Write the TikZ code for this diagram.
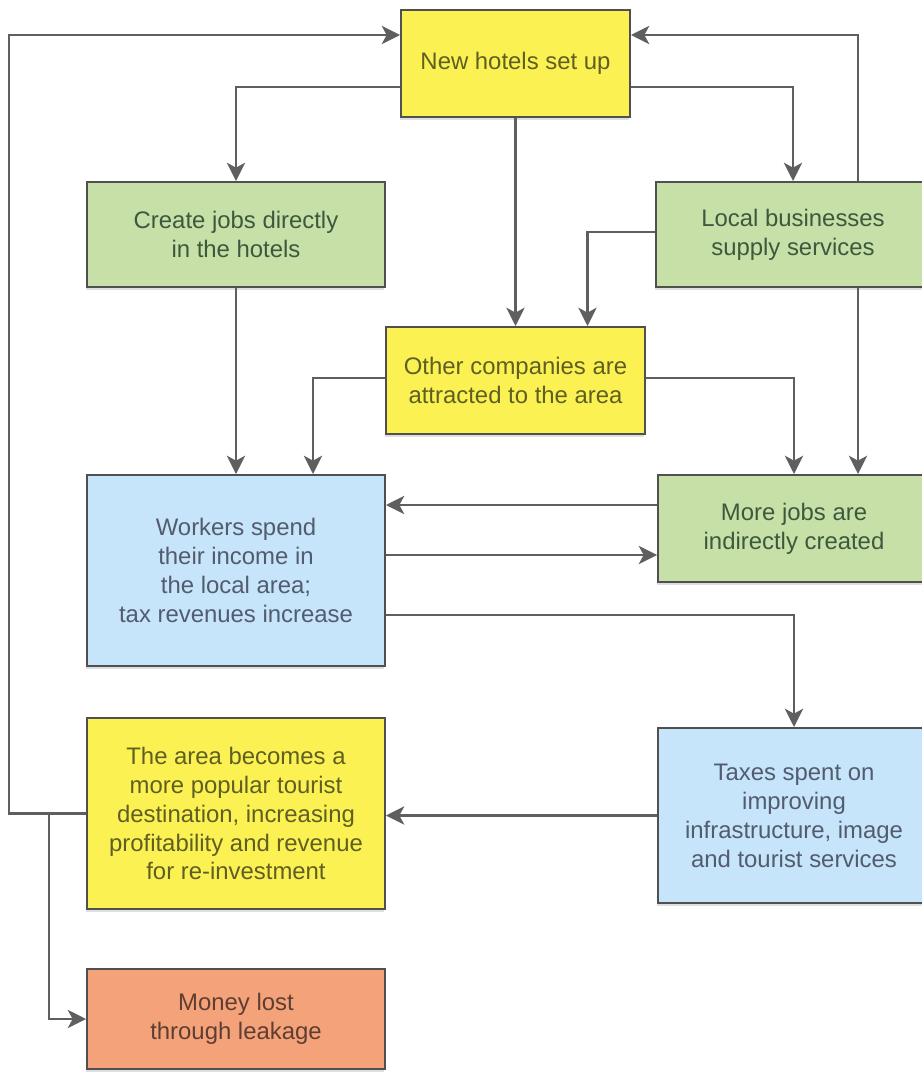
\documentclass[tikz,border=0pt]{standalone}
\usepackage{fontspec}
\setmainfont{Liberation Sans}
\usetikzlibrary{arrows.meta,calc,shadows}
\definecolor{hotelyellow}{RGB}{251,241,82}
\definecolor{jobgreen}{RGB}{198,224,168}
\definecolor{taxblue}{RGB}{198,228,250}
\definecolor{leakorange}{RGB}{244,162,122}
\definecolor{boxline}{RGB}{80,80,80}
\definecolor{arrowgray}{RGB}{95,95,95}
\definecolor{yellowtext}{RGB}{95,95,35}
\definecolor{greentext}{RGB}{62,88,62}
\definecolor{bluetext}{RGB}{82,92,110}
\definecolor{orangetext}{RGB}{95,62,50}
\newcommand{\pxu}{0.025cm}
\begin{document}
\begin{tikzpicture}[x=0.025cm,y=-0.025cm,
    box/.style={draw=boxline, line width=1.4pt, align=center, inner sep=0pt,
      font=\fontsize{17}{20.6}\selectfont,
      drop shadow={shadow xshift=-1pt, shadow yshift=-2pt, opacity=0.25}},
    yellowbox/.style={box, fill=hotelyellow, text=yellowtext},
    greenbox/.style={box, fill=jobgreen, text=greentext},
    bluebox/.style={box, fill=taxblue, text=bluetext},
    orangebox/.style={box, fill=leakorange, text=orangetext},
    arr/.style={draw=arrowgray, line width=1.8pt, -{Stealth[length=13pt,width=13pt,inset=3.5pt]}}]
\useasboundingbox (0,0) rectangle (921,1075);

\node[yellowbox, minimum width=229*\pxu, minimum height=107*\pxu] (hotels) at (515.5,63.5) {New hotels set up};
\node[greenbox, minimum width=298*\pxu, minimum height=105*\pxu] (direct) at (236,234.5) {Create jobs directly\\in the hotels};
\node[greenbox, minimum width=274*\pxu, minimum height=105*\pxu] (local) at (793,234.5) {Local businesses\\supply services};
\node[yellowbox, minimum width=259*\pxu, minimum height=107*\pxu] (other) at (515.5,380.5) {Other companies are\\attracted to the area};
\node[bluebox, minimum width=298*\pxu, minimum height=191*\pxu] (workers) at (236,570.5) {Workers spend\\their income in\\the local area;\\tax revenues increase};
\node[greenbox, minimum width=272*\pxu, minimum height=107*\pxu] (morejobs) at (794,528.5) {More jobs are\\indirectly created};
\node[yellowbox, minimum width=298*\pxu, minimum height=191*\pxu] (tourist) at (236,813.5) {The area becomes a\\more popular tourist\\destination, increasing\\profitability and revenue\\for re-investment};
\node[bluebox, minimum width=272*\pxu, minimum height=175*\pxu] (taxes) at (794,815.5) {Taxes spent on\\improving\\infrastructure, image\\and tourist services};
\node[orangebox, minimum width=298*\pxu, minimum height=100*\pxu] (money) at (236,1019) {Money lost\\through leakage};

\coordinate (hL) at ($(hotels.west)+(0,23.5)$);
\coordinate (hR) at ($(hotels.east)+(0,23.5)$);
\coordinate (hLin) at ($(hotels.west)+(0,-28.5)$);
\coordinate (hRin) at ($(hotels.east)+(0,-28.5)$);
\coordinate (lR) at ($(local.north)+(65,0)$);
\coordinate (lL) at ($(local.west)+(0,-2.5)$);
\coordinate (oIn) at ($(other.north)+(72,0)$);
\coordinate (oL) at ($(other.west)+(0,-2.5)$);
\coordinate (oR) at ($(other.east)+(0,-2.5)$);
\coordinate (wIn) at ($(workers.north)+(77,0)$);
\coordinate (mL) at ($(morejobs.west)+(0,-23.5)$);
\coordinate (wR) at ($(workers.east)+(0,-15.5)$);
\coordinate (wT) at ($(workers.east)+(0,44.5)$);
\coordinate (loopL) at ($(tourist.west)+(-77,0)$);
\coordinate (leak) at ($(tourist.west)+(-37,0)$);

\draw[arr] (hL) -| (direct.north);
\draw[arr] (hR) -| (local.north);
\draw[arr] (hotels.south) -- (other.north);
\draw[arr] (lR) |- (hRin);
\draw[arr] (lL) -| (oIn);
\draw[arr] (direct.south) -- (workers.north);
\draw[arr] (oL) -| (wIn);
\draw[arr] (oR) -| (morejobs.north);
\draw[arr] (local.south -| lR) -- (morejobs.north -| lR);
\draw[arr] (mL) -- (mL -| workers.east);
\draw[arr] (wR) -- (wR -| morejobs.west);
\draw[arr] (wT) -| (taxes.north);
\draw[arr] (taxes.west) -- (taxes.west -| tourist.east);
\draw[arr] (tourist.west) -- (loopL) |- (hLin);
\draw[arr] (leak) |- (money.west);
\end{tikzpicture}
\end{document}
